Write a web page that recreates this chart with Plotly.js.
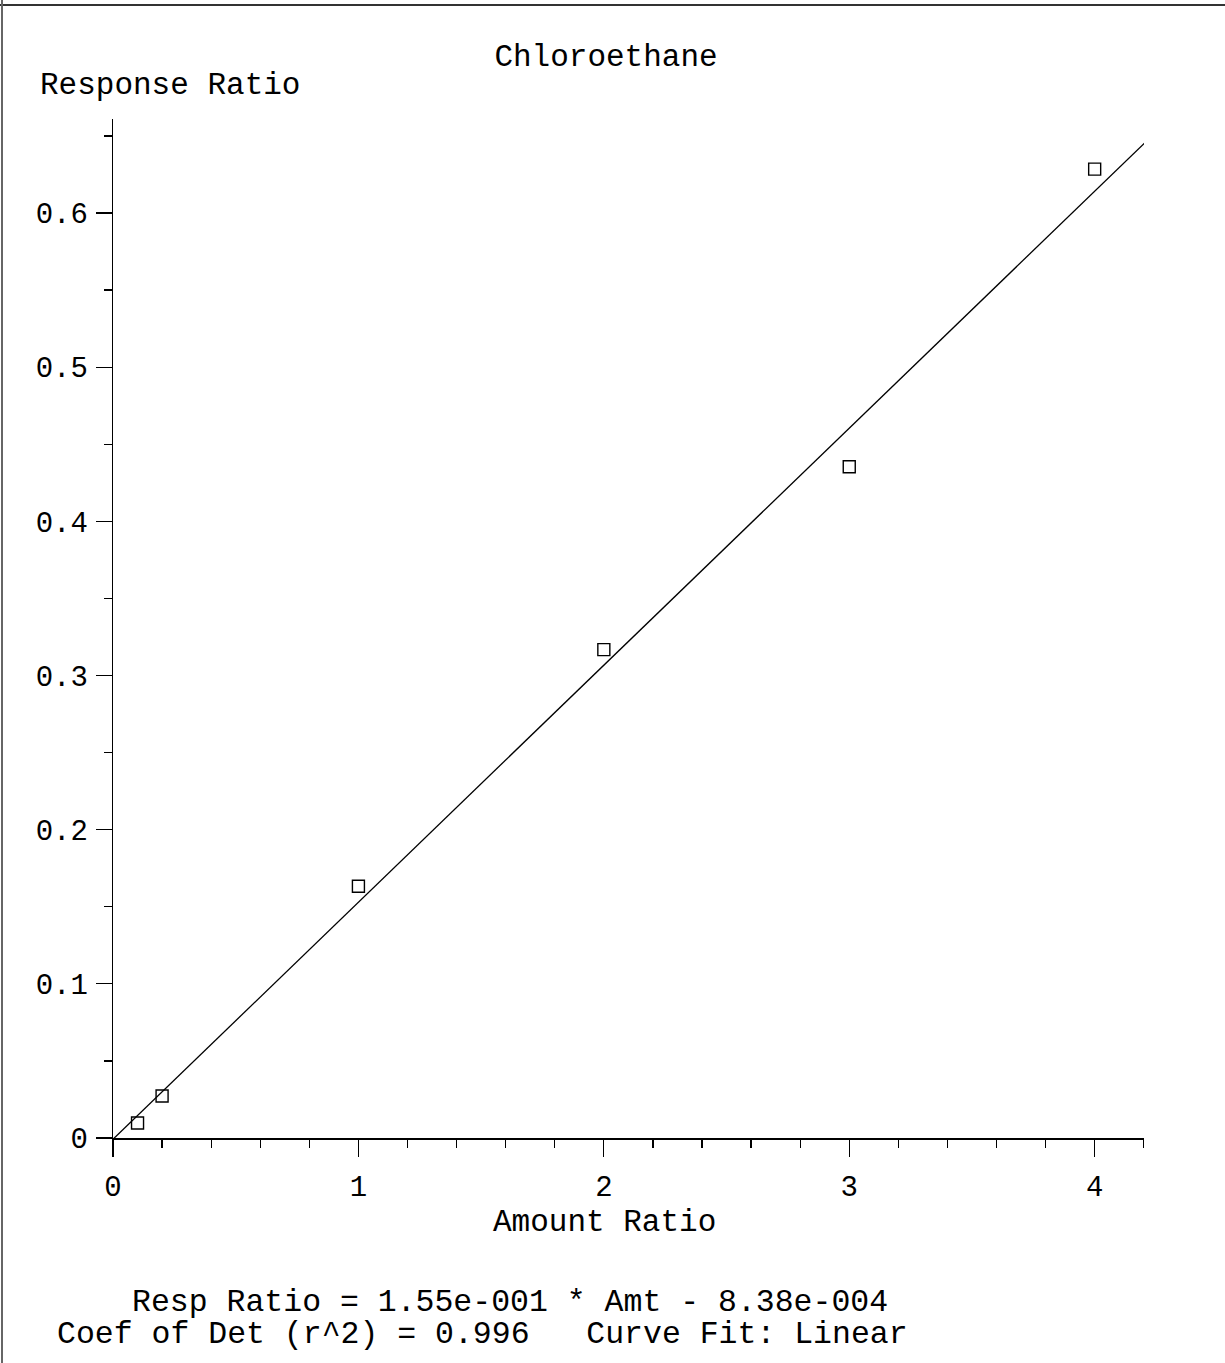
<!DOCTYPE html>
<html>
<head>
<meta charset="utf-8">
<script src="https://cdn.plot.ly/plotly-3.0.1.min.js"></script>
<style>html,body{margin:0;padding:0;background:#fff;}#chart{width:1225px;height:1363px;}</style>
</head>
<body>
<div id="chart"></div>
<script>
// Data
const amountRatio = [0.1, 0.2, 1, 2, 3, 4];
const responseRatio = [0.0097, 0.0272, 0.1633, 0.3168, 0.4354, 0.6285];
// Fitted line endpoints (Resp Ratio = 1.55e-001 * Amt - 8.38e-004)
const fitX = [0, 4.22];
const fitY = [-0.0008, 0.648];
const xTicks = [0, 1, 2, 3, 4];
const yTicks = [0, 0.1, 0.2, 0.3, 0.4, 0.5, 0.6];
const yTickLabels = ['0', '0.1', '0.2', '0.3', '0.4', '0.5', '0.6'];
const chartTitle = 'Chloroethane';
const xTitle = 'Amount Ratio';
const yTitle = 'Response Ratio';
const eqLine1 = 'Resp Ratio = 1.55e-001 * Amt - 8.38e-004';
const eqLine2 = 'Coef of Det (r^2) = 0.996\u00a0\u00a0\u00a0Curve Fit: Linear';

const FONT = '"Liberation Mono", "Courier New", monospace';
const FS = 31;
const TFS = 29;

// Pixel helpers for paper coords (plot area 113..1144 x, 119..1138 y)
const L = 113, R = 1144, T = 119, B = 1138;
const px = p => (p - L) / (R - L);
const py = p => (B - p) / (B - T);

const traces = [
  {
    x: fitX, y: fitY, mode: 'lines', type: 'scatter', cliponaxis: false,
    line: {color: '#000', width: 1.3}, hoverinfo: 'skip', showlegend: false
  },
  {
    x: amountRatio, y: responseRatio, mode: 'markers', type: 'scatter',
    marker: {symbol: 'square-open', size: 12, color: '#000', line: {width: 1.4, color: '#000'}},
    showlegend: false
  }
];

const layout = {
  width: 1225, height: 1363,
  paper_bgcolor: '#fff', plot_bgcolor: '#fff',
  margin: {l: L, r: 1225 - R, t: T, b: 1363 - B, pad: 0},
  font: {family: FONT, size: FS, color: '#000'},
  showlegend: false,
  title: {
    text: chartTitle, font: {family: FONT, size: FS, color: '#000'},
    xref: 'container', yref: 'container', x: 606 / 1225, xanchor: 'center',
    y: 1 - 55 / 1363, yanchor: 'middle'
  },
  xaxis: {
    range: [0, 4.201], showgrid: false, zeroline: false,
    showline: true, linecolor: '#000', linewidth: 1.6,
    ticks: 'outside', ticklen: 17, tickwidth: 1.3, tickcolor: '#000',
    tickvals: xTicks, ticktext: xTicks.map(String),
    tickfont: {family: FONT, size: TFS, color: '#000'},
    ticklabelstandoff: 5,
    minor: {dtick: 0.2, tick0: 0, ticklen: 8, tickwidth: 1.3, tickcolor: '#000', ticks: 'outside', showgrid: false}
  },
  yaxis: {
    range: [0, 0.661], showgrid: false, zeroline: false,
    showline: true, linecolor: '#000', linewidth: 1.3,
    ticks: 'outside', ticklen: 16, tickwidth: 1.3, tickcolor: '#000',
    tickvals: yTicks, ticktext: yTickLabels,
    tickfont: {family: FONT, size: TFS, color: '#000'},
    ticklabelstandoff: 2,
    minor: {dtick: 0.05, tick0: 0, ticklen: 8, tickwidth: 1.3, tickcolor: '#000', ticks: 'outside', showgrid: false}
  },
  annotations: [
    {text: yTitle, xref: 'paper', yref: 'paper', x: px(38), y: py(86), xanchor: 'left', yanchor: 'middle', showarrow: false, font: {family: FONT, size: FS, color: '#000'}},
    {text: xTitle, xref: 'paper', yref: 'paper', x: px(604), y: py(1222), xanchor: 'center', yanchor: 'middle', showarrow: false, font: {family: FONT, size: FS, color: '#000'}},
    {text: eqLine1, xref: 'paper', yref: 'paper', x: px(130), y: py(1302), xanchor: 'left', yanchor: 'middle', showarrow: false, font: {family: FONT, size: 31.5, color: '#000'}},
    {text: eqLine2, xref: 'paper', yref: 'paper', x: px(55), y: py(1334), xanchor: 'left', yanchor: 'middle', showarrow: false, font: {family: FONT, size: 31.5, color: '#000'}}
  ],
  shapes: [
    {type: 'line', xref: 'paper', yref: 'paper', x0: px(0), x1: px(1225), y0: py(5), y1: py(5), line: {color: '#333', width: 2}},
    {type: 'line', xref: 'paper', yref: 'paper', x0: px(2), x1: px(2), y0: py(0), y1: py(1363), line: {color: '#666', width: 2}}
  ]
};

Plotly.newPlot('chart', traces, layout, {staticPlot: true, displayModeBar: false});
</script>
</body>
</html>
